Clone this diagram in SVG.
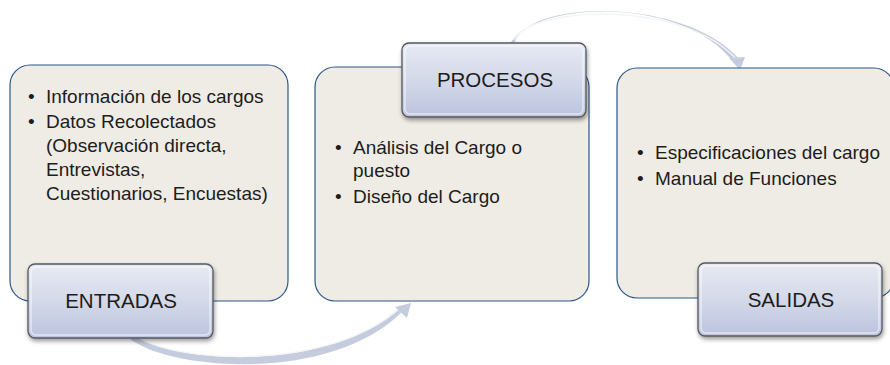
<svg xmlns="http://www.w3.org/2000/svg" width="890" height="365" viewBox="0 0 890 365">
<style>
.box{fill:#efece5;stroke:#2b5687;stroke-width:1.2}
.lbl{fill:url(#lg);stroke:#55585f;stroke-width:1.3}
.hl{fill:none;stroke:#ffffff;stroke-opacity:0.55;stroke-width:1.5}
.lt{font-family:"Liberation Sans",Arial,sans-serif;font-size:20.5px;fill:#1c1c1c;text-anchor:middle}
.bt{font-family:"Liberation Sans",Arial,sans-serif;font-size:19px;fill:#1c1c1c}
.arr{fill:#c4ccdd}
.arrhl{fill:none;stroke:#f3f5f9;stroke-width:1.3}
</style>
<defs>
<linearGradient id="lg" x1="0" y1="0" x2="0" y2="1">
<stop offset="0" stop-color="#e7eaf2"/>
<stop offset="0.5" stop-color="#d4d9e9"/>
<stop offset="1" stop-color="#bcc3de"/>
</linearGradient>
<filter id="sh" x="-10%" y="-10%" width="125%" height="140%">
<feDropShadow dx="1" dy="2.5" stdDeviation="2" flood-color="#000" flood-opacity="0.4"/>
</filter>
</defs>
<rect width="890" height="365" fill="#ffffff"/>
<g id="connectors">
<path class="arr" d="M130,339 C173,371 332,383 403,311 L400,307 C330,373 177,364 136,336 Z"/>
<path class="arrhl" d="M137,337 C178,363 330,371 400,308"/>
<path class="arr" d="M411,303 L395,307 L407,318 Z"/>
<path class="arr" d="M510,44 C531,1 684,-6 734,63 L740,60 C688,-2 530,-2 515,42 Z"/>
<path class="arrhl" d="M514,40 C534,5 683,0 736,59"/>
<path class="arr" d="M740,70 L729,58 L745,57 Z"/>
</g>
<g id="box-entradas">
<rect class="box" x="10" y="65" width="278" height="236" rx="20"/>
<text class="bt" x="28" y="103">•</text><text class="bt" x="46" y="103">Información de los cargos</text>
<text class="bt" x="28" y="128">•</text><text class="bt" x="46" y="128">Datos Recolectados</text>
<text class="bt" x="46" y="152">(Observación directa,</text>
<text class="bt" x="46" y="176">Entrevistas,</text>
<text class="bt" x="46" y="200">Cuestionarios, Encuestas)</text>
</g>
<g id="box-procesos">
<rect class="box" x="315" y="67" width="274" height="234" rx="20"/>
<text class="bt" x="335" y="154">•</text><text class="bt" x="353" y="154">Análisis del Cargo o</text>
<text class="bt" x="353" y="177">puesto</text>
<text class="bt" x="335" y="203">•</text><text class="bt" x="353" y="203">Diseño del Cargo</text>
</g>
<g id="box-salidas">
<rect class="box" x="617" y="68" width="277" height="230" rx="20"/>
<text class="bt" x="637" y="159">•</text><text class="bt" x="655" y="159">Especificaciones del cargo</text>
<text class="bt" x="637" y="185">•</text><text class="bt" x="655" y="185">Manual de Funciones</text>
</g>
<g id="label-entradas">
<rect class="lbl" x="28" y="264" width="185" height="74" rx="7" filter="url(#sh)"/>
<rect class="hl" x="31" y="267" width="179" height="68" rx="5"/>
<text class="lt" x="121" y="308">ENTRADAS</text>
</g>
<g id="label-procesos">
<rect class="lbl" x="402" y="43" width="184" height="74" rx="7" filter="url(#sh)"/>
<rect class="hl" x="405" y="46" width="178" height="68" rx="5"/>
<text class="lt" x="495" y="87">PROCESOS</text>
</g>
<g id="label-salidas">
<rect class="lbl" x="698" y="263" width="184" height="73" rx="7" filter="url(#sh)"/>
<rect class="hl" x="701" y="266" width="178" height="67" rx="5"/>
<text class="lt" x="791" y="307">SALIDAS</text>
</g>
</svg>
